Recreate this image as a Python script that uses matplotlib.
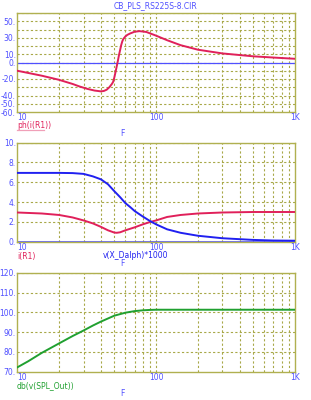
import matplotlib
matplotlib.use("Agg")
import matplotlib.pyplot as plt
from matplotlib.lines import Line2D
import numpy as np

title = "CB_PLS_RS225S-8.CIR"

# Panel 1: phase of i(R1)
f_phase = [10, 15, 20, 25, 28, 32, 36, 40, 42, 44, 46, 48, 49, 50, 51, 52, 53, 54, 55, 56, 57, 58, 60, 62, 65, 70, 76, 85, 100, 120, 150, 200, 300, 500, 700, 1000]
phase = [-10, -16, -21, -26, -29, -32, -34, -35, -34.5, -33, -30, -26, -23.5, -18, -11.5, -4.7, 2, 9, 15, 21, 25.5, 28.5, 31.5, 33.5, 35.2, 37.3, 38, 37, 32.5, 27, 21, 15.5, 11, 7.5, 6, 4.5]

# Panel 2: i(R1) and v(X_Dalph)*1000
f_i = [10, 15, 20, 25, 30, 35, 40, 45, 50, 52, 55, 60, 70, 80, 90, 100, 120, 150, 200, 300, 500, 1000]
i_r1 = [2.95, 2.85, 2.7, 2.45, 2.15, 1.85, 1.5, 1.15, 0.92, 0.9, 0.95, 1.15, 1.45, 1.75, 1.98, 2.15, 2.5, 2.7, 2.85, 2.95, 3.0, 3.0]
f_v = [10, 15, 20, 25, 30, 35, 40, 45, 50, 55, 60, 65, 70, 80, 90, 100, 120, 150, 200, 300, 500, 700, 1000]
v_dalph = [6.95, 6.95, 6.95, 6.93, 6.85, 6.6, 6.3, 5.8, 5.1, 4.5, 3.9, 3.5, 3.1, 2.55, 2.1, 1.75, 1.25, 0.9, 0.6, 0.35, 0.18, 0.12, 0.1]

# Panel 3: SPL
f_spl = [10, 12, 15, 20, 25, 30, 35, 40, 50, 60, 70, 80, 90, 100, 200, 500, 1000]
spl = [72.2, 75.3, 79.5, 84.3, 88.0, 90.8, 93.3, 95.3, 98.3, 99.8, 100.6, 101.0, 101.2, 101.3, 101.3, 101.3, 101.3]

yt1 = [50, 30, 10, 0, -20, -40, -50, -60]
yt2 = [0, 2, 4, 6, 8, 10]
yt3 = [70, 80, 90, 100, 110, 120]
xt = [10, 100, 1000]
xtl = ["10", "100", "1K"]

RED = "#e0205a"
BLUE = "#2020f0"
LBLUE = "#5050ff"
GREEN = "#20a030"
OLIVE = "#b0b050"
GRID = "#a8a848"

W, H = 311, 400
fig = plt.figure(figsize=(W / 100, H / 100), dpi=100)
fig.patch.set_facecolor("white")

def fx(px):
    return px / W

def fy(py):
    return 1 - py / H

L, R = 17.3, 295
panels = [(13, 112), (142.7, 241.7), (272.7, 371.7)]
fs = 5.5

axes = []
for (t, b) in panels:
    ax = fig.add_axes([fx(L), fy(b), fx(R) - fx(L), (b - t) / H])
    ax.set_xscale("log")
    ax.set_xlim(10, 1000)
    for s in ax.spines.values():
        s.set_color(OLIVE)
        s.set_linewidth(1.0)
    ax.tick_params(length=0, labelsize=fs, colors=LBLUE, pad=1)
    ax.set_xticks(xt)
    ax.set_xticklabels([])
    ax.minorticks_off()
    axes.append(ax)

def vgrid(ax):
    for dec in [10, 100]:
        for m in range(2, 10):
            ax.axvline(dec * m, color=GRID, lw=0.8, ls=(0, (2, 2)), zorder=1)
    ax.axvline(100, color=GRID, lw=0.8, ls=(0, (2, 2)), zorder=1)

def hgrid(ax, vals):
    for v in vals:
        ax.axhline(v, color=GRID, lw=0.8, ls=(0, (2, 2)), zorder=1)

def ylabels(ax, ticks):
    ax.set_yticks(ticks)
    ax.set_yticklabels([f"{t}." for t in ticks])

# Panel 1
ax = axes[0]
ax.set_ylim(-60, 60)
vgrid(ax)
hgrid(ax, range(-50, 61, 10))
ax.axhline(0, color=LBLUE, lw=0.9, zorder=2)
ax.plot(f_phase, phase, color=RED, lw=1.4, zorder=3)
ylabels(ax, yt1)

# Panel 2
ax = axes[1]
ax.set_ylim(0, 10)
vgrid(ax)
hgrid(ax, [2, 4, 6, 8, 10])
ax.axhline(0, color=LBLUE, lw=1.2, zorder=2)
ax.plot(f_i, i_r1, color=RED, lw=1.4, zorder=3)
ax.plot(f_v, v_dalph, color=BLUE, lw=1.4, zorder=3)
ylabels(ax, yt2)

# Panel 3
ax = axes[2]
ax.set_ylim(70, 120)
vgrid(ax)
hgrid(ax, [80, 90, 100, 110, 120])
ax.plot(f_spl, spl, color=GREEN, lw=1.4, zorder=3)
ylabels(ax, yt3)

# x tick labels as text under each panel
for (t, b) in panels:
    yy = fy(b + 5.5)
    fig.text(fx(17.5), yy, xtl[0], fontsize=fs, color=LBLUE, ha="left", va="center")
    fig.text(fx(156), yy, xtl[1], fontsize=fs, color=LBLUE, ha="center", va="center")
    fig.text(fx(295), yy, xtl[2], fontsize=fs, color=LBLUE, ha="center", va="center")

fig.text(fx(155), fy(6), title, fontsize=fs, color=LBLUE, ha="center", va="center")

fig.text(fx(17), fy(126), "ph(i(R1))", fontsize=fs, color=RED, ha="left", va="center")
fig.add_artist(Line2D([fx(17), fx(44)], [fy(130), fy(130)], color="#f0a0b8", lw=0.9))
fig.text(fx(122), fy(133.5), "F", fontsize=fs, color=LBLUE, ha="center", va="center")
fig.text(fx(17), fy(256), "i(R1)", fontsize=fs, color=RED, ha="left", va="center")
fig.text(fx(103), fy(256), "v(X_Dalph)*1000", fontsize=fs, color=BLUE, ha="left", va="center")
fig.text(fx(122), fy(263.5), "F", fontsize=fs, color=LBLUE, ha="center", va="center")
fig.text(fx(17), fy(386), "db(v(SPL_Out))", fontsize=fs, color=GREEN, ha="left", va="center")
fig.text(fx(122), fy(393.5), "F", fontsize=fs, color=LBLUE, ha="center", va="center")

fig.savefig("out.png", dpi=100, facecolor="white")
